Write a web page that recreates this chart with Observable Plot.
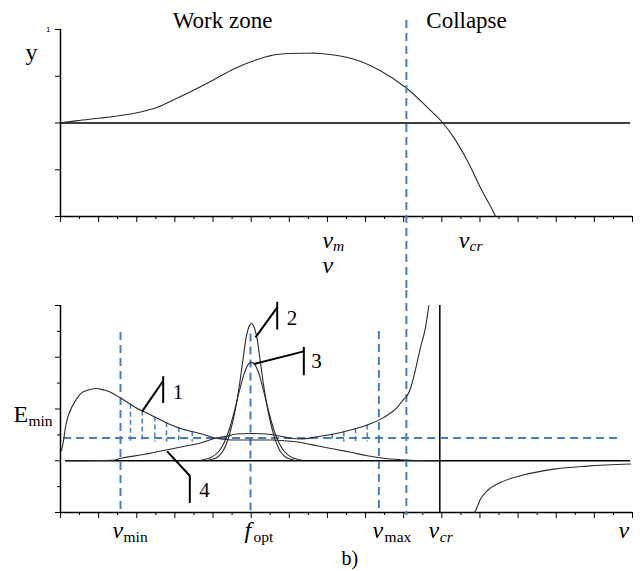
<!DOCTYPE html>
<html><head><meta charset="utf-8">
<script src="https://cdn.jsdelivr.net/npm/d3@7"></script>
<script src="https://cdn.jsdelivr.net/npm/@observablehq/plot@0.6"></script>
<style>
body{margin:0;background:#fff;}
#wrap{position:relative;width:642px;height:571px;overflow:hidden;background:#fff;}
#wrap svg{position:absolute;left:0;overflow:visible;}
#wrap svg text{font-family:"Liberation Serif","Times New Roman",serif;}
#wrap svg g[aria-label="y-axis tick label"] text{font-family:"Liberation Sans",Arial,sans-serif;}
</style></head><body><div id="wrap"></div>
<script>
// ---- ticks ----
const vTicksMajor = [0,1,2,3,4,5,6,7,8,9,10,11,12,13,14,15];
const vTicksMinor = [0.5,1.5,2.5,3.5,4.5,5.5,6.5,7.5,8.5,9.5,10.5,11.5,12.5,13.5,14.5];
const yTopTicks = [-1,-0.5,0,0.5,1];
const yTopTickLabels = ["","","","","1"];
const eTicksMajor = [-1,0,1,2,3];
const eTicksMinor = [-0.5,0.5,1.5,2.5];

// ---- top panel curve y(v) ----
const topV = [0,0.44,1.05,1.57,2.10,2.54,2.97,3.50,4.02,4.54,5.07,5.59,6.03,6.43,6.82,7.68,8.39,9.07,9.62,10.03,10.31,10.67,11.01,11.36,11.41];
const topY = [0,0.025,0.053,0.08,0.118,0.168,0.248,0.353,0.463,0.578,0.666,0.727,0.744,0.746,0.744,0.684,0.559,0.374,0.167,0,-0.154,-0.403,-0.689,-0.956,-1.0];

// ---- bottom panel curves E(v) ----
const c1V = [0.026,0.079,0.131,0.218,0.393,0.569,0.70,0.918,1.13,1.267,1.618,1.967,2.316,2.754,3.192,3.716,4.020,4.406,4.983,5.559,6.032,6.294,6.732,7.168,7.606,8.043,8.654,9.179,9.887];
const c1E = [0.193,0.387,0.644,0.903,1.161,1.321,1.36,1.395,1.37,1.340,1.193,1.031,0.903,0.741,0.613,0.516,0.445,0.406,0.400,0.400,0.377,0.354,0.290,0.226,0.164,0.097,0.033,0.010,0];
const c2V = [3.881,4.091,4.248,4.380,4.485,4.590,4.694,4.799,4.878,4.956,5.009,5.061,5.140,5.219,5.324,5.429,5.534,5.639,5.770,5.927,6.137];
const c2E = [0.01,0.058,0.174,0.387,0.658,1.006,1.470,2.031,2.418,2.611,2.656,2.611,2.418,2.031,1.470,1.006,0.658,0.387,0.174,0.058,0.01];
const c3V = [3.672,3.934,4.144,4.301,4.432,4.563,4.694,4.826,4.930,5.009,5.088,5.193,5.324,5.455,5.586,5.717,5.875,6.084,6.347];
const c3E = [0.01,0.058,0.174,0.368,0.619,0.967,1.354,1.702,1.867,1.901,1.867,1.702,1.354,0.967,0.619,0.368,0.174,0.058,0.01];
const c4V = [0.131,1.364,1.618,2.143,2.667,3.192,3.716,4.012,4.406,4.616,4.983,5.402,5.770,6.032,6.294,6.732,7.168,7.606,8.043,8.479,8.830,9.003,9.092,9.179,9.266,9.441,9.572,9.659];
const c4E = [0,0.01,0.052,0.116,0.193,0.271,0.354,0.426,0.484,0.516,0.526,0.516,0.474,0.435,0.419,0.464,0.516,0.594,0.690,0.838,1.031,1.193,1.257,1.40,1.63,2.191,2.578,2.998];
const c4nV = [10.857,10.884,11.015,11.19,11.539,12.064,12.937,13.813,14.949];
const c4nE = [-1.0,-0.967,-0.741,-0.580,-0.420,-0.290,-0.161,-0.103,-0.064];

// ---- marked levels ----
const vMin = 1.574, fOpt = 4.983, vMax = 8.35, vLimit = 9.07, vCr = 9.947;
const eLevel = 0.44;
const hatchLV = [1.836,2.143,2.473,2.780,3.102,3.453];
const hatchLTop = [1.092,0.96,0.845,0.733,0.64,0.565];
const hatchRV = [7.125,7.43,7.737,8.043];
const hatchRTop = [0.51,0.56,0.62,0.69];
const hatchBottom = 0.36;

// ---- numbered leaders ----
const leaderNames = ["1","2","3","4"];
const leaderTipV = [2.143,5.114,5.069,2.798];
const leaderTipE = [0.954,2.385,1.870,0.180];
const leaderBarV = [2.693,5.683,6.381,3.391];
const leaderJoinE = [1.547,2.965,2.114,-0.290];
const leaderBarTop = [1.625,3.062,2.191,-0.290];
const leaderBarBottom = [1.108,2.528,1.644,-0.826];
const leaderTextV = [3.082,6.071,6.714,3.776];
const leaderTextE = [1.325,2.756,1.915,-0.561];

// ---- axis symbol labels ----
const topSymMain = ["v","v"], topSymSub = ["m","cr"], topSymV = [6.871, 10.446];
const botSymMain = ["v","f","v","v"], botSymSub = ["min","opt","max","cr"], botSymV = [vMin, fOpt, vMax, vCr];
const botSymSubItalic = [false,false,false,true];

const blue = "#4a7ebb";
const ink = "#2b2b2b";
const dash = "8,5";
const noFmt = () => "";

function symbol(main, sub, x, y, mainDx, subDx, subDy, subItalic) {
  return [
    Plot.text([main], {x: [x], y: [y], text: d => d, dx: mainDx, fontSize: 24, fontStyle: "italic", textAnchor: "start"}),
    Plot.text([sub], {x: [x], y: [y], text: d => d, dx: subDx, dy: subDy, fontSize: 15.5, fontStyle: subItalic ? "italic" : "normal", textAnchor: "start"})
  ];
}

const topPlot = Plot.plot({
  width: 642, height: 290,
  marginLeft: 60, marginRight: 10, marginTop: 29, marginBottom: 74,
  x: {domain: [0, 15]},
  y: {domain: [-1, 1]},
  style: {background: "transparent", overflow: "visible"},
  marks: [
    Plot.axisX(vTicksMajor, {tickSize: 6, tickFormat: noFmt, label: null}),
    Plot.axisX(vTicksMinor, {tickSize: 3, tickFormat: noFmt, label: null}),
    Plot.axisY(yTopTicks, {tickSize: 5, tickPadding: 5, tickFormat: d => yTopTickLabels[yTopTicks.indexOf(d)], label: null, fontSize: 8}),
    Plot.ruleX([0], {y1: -1, y2: 1, strokeWidth: 1.5}),
    Plot.ruleY([-1], {x1: 0, x2: 15, strokeWidth: 1.5}),
    Plot.ruleY([0], {x1: 0, x2: 14.95, strokeWidth: 1.5}),
    Plot.line(topV, {x: topV, y: topY, stroke: ink, strokeWidth: 1.1, curve: "catmull-rom"}),
    Plot.ruleX([vLimit], {y1: 1.096, y2: -1.79, stroke: blue, strokeWidth: 2, strokeDasharray: dash}),
    Plot.text(["Work zone", "Collapse"], {x: [4.25, 10.648], y: [1.10, 1.10], text: d => d, fontSize: 23}),
    Plot.text(["y"], {x: [-0.761], y: [0.761], text: d => d, fontSize: 24}),
    ...symbol(topSymMain[0], topSymSub[0], topSymV[0], -1.26, 0, 10.5, 5.5, true),
    ...symbol(topSymMain[1], topSymSub[1], topSymV[1], -1.26, 0, 10.7, 5.5, true),
    Plot.text(["v"], {x: [topSymV[0]], y: [-1.527], text: d => d, fontSize: 24, fontStyle: "italic", textAnchor: "start"})
  ]
});

const botLabelE = -1.335;
const botPlot = Plot.plot({
  width: 642, height: 281,
  marginLeft: 60, marginRight: 10, marginTop: 15, marginBottom: 59,
  x: {domain: [0, 15]},
  y: {domain: [-1, 3]},
  style: {background: "transparent", overflow: "visible"},
  marks: [
    Plot.axisX(vTicksMajor, {tickSize: 6, tickFormat: noFmt, label: null}),
    Plot.axisX(vTicksMinor, {tickSize: 3, tickFormat: noFmt, label: null}),
    Plot.axisY(eTicksMajor, {tickSize: 5, tickFormat: noFmt, label: null}),
    Plot.axisY(eTicksMinor, {tickSize: 3, tickFormat: noFmt, label: null}),
    Plot.ruleX([0], {y1: -1, y2: 3, strokeWidth: 1.5}),
    Plot.ruleY([-1], {x1: 0, x2: 15, strokeWidth: 1.5}),
    Plot.ruleY([0], {x1: 0.131, x2: 14.95, strokeWidth: 1.5}),
    Plot.ruleX([vCr], {y1: -1, y2: 3, strokeWidth: 1.5}),
    // blue dashed guides
    Plot.ruleX([vMin, fOpt, vMax], {x: d => d, y1: [2.48, 2.45, 2.5], y2: -1.03, stroke: blue, strokeWidth: 2, strokeDasharray: dash}),
    Plot.ruleX([vLimit], {y1: 3.29, y2: -1.06, stroke: blue, strokeWidth: 2, strokeDasharray: dash}),
    Plot.ruleY([eLevel], {x1: 0.08, x2: 14.69, stroke: blue, strokeWidth: 2, strokeDasharray: dash}),
    Plot.ruleX(hatchLV, {x: d => d, y1: hatchLTop, y2: hatchBottom, stroke: blue, strokeWidth: 1.5, strokeDasharray: "5,3"}),
    Plot.ruleX(hatchRV, {x: d => d, y1: hatchRTop, y2: hatchBottom, stroke: blue, strokeWidth: 1.5, strokeDasharray: "5,3"}),
    // curves
    Plot.line(c1V, {x: c1V, y: c1E, stroke: ink, strokeWidth: 1.1, curve: "catmull-rom"}),
    Plot.line(c2V, {x: c2V, y: c2E, stroke: ink, strokeWidth: 1.1, curve: "catmull-rom"}),
    Plot.line(c3V, {x: c3V, y: c3E, stroke: ink, strokeWidth: 1.1, curve: "catmull-rom"}),
    Plot.line(c4V, {x: c4V, y: c4E, stroke: ink, strokeWidth: 1.1, curve: "monotone-x"}),
    Plot.line(c4nV, {x: c4nV, y: c4nE, stroke: ink, strokeWidth: 1.1, curve: "monotone-x"}),
    // leaders
    Plot.link(leaderNames, {x1: leaderTipV, y1: leaderTipE, x2: leaderBarV, y2: leaderJoinE, stroke: "#000", strokeWidth: 2}),
    Plot.ruleX(leaderNames, {x: leaderBarV, y1: leaderBarTop, y2: leaderBarBottom, stroke: "#000", strokeWidth: 2}),
    Plot.text(leaderNames, {x: leaderTextV, y: leaderTextE, text: d => d, fontSize: 21}),
    // axis labels
    Plot.text(["E"], {x: [-1.233], y: [0.892], text: d => d, fontSize: 24, textAnchor: "start"}),
    Plot.text(["min"], {x: [-1.233], y: [0.892], text: d => d, dx: 15, dy: 6, fontSize: 15.5, textAnchor: "start"}),
    ...symbol(botSymMain[0], botSymSub[0], botSymV[0], botLabelE, -8, 3, 6.7, botSymSubItalic[0]),
    ...symbol(botSymMain[1], botSymSub[1], botSymV[1], botLabelE, -6, 3, 6.7, botSymSubItalic[1]),
    ...symbol(botSymMain[2], botSymSub[2], botSymV[2], botLabelE, -6.3, 5.7, 6.7, botSymSubItalic[2]),
    ...symbol(botSymMain[3], botSymSub[3], botSymV[3], botLabelE, -11.3, 0, 6.7, botSymSubItalic[3]),
    Plot.text(["v"], {x: [14.77], y: [botLabelE], text: d => d, fontSize: 24, fontStyle: "italic"}),
    Plot.text(["b)"], {x: [7.59], y: [-1.90], text: d => d, fontSize: 20})
  ]
});

const wrap = document.getElementById("wrap");
topPlot.style.top = "0px";
botPlot.style.top = "290px";
wrap.appendChild(topPlot);
wrap.appendChild(botPlot);
</script></body></html>
